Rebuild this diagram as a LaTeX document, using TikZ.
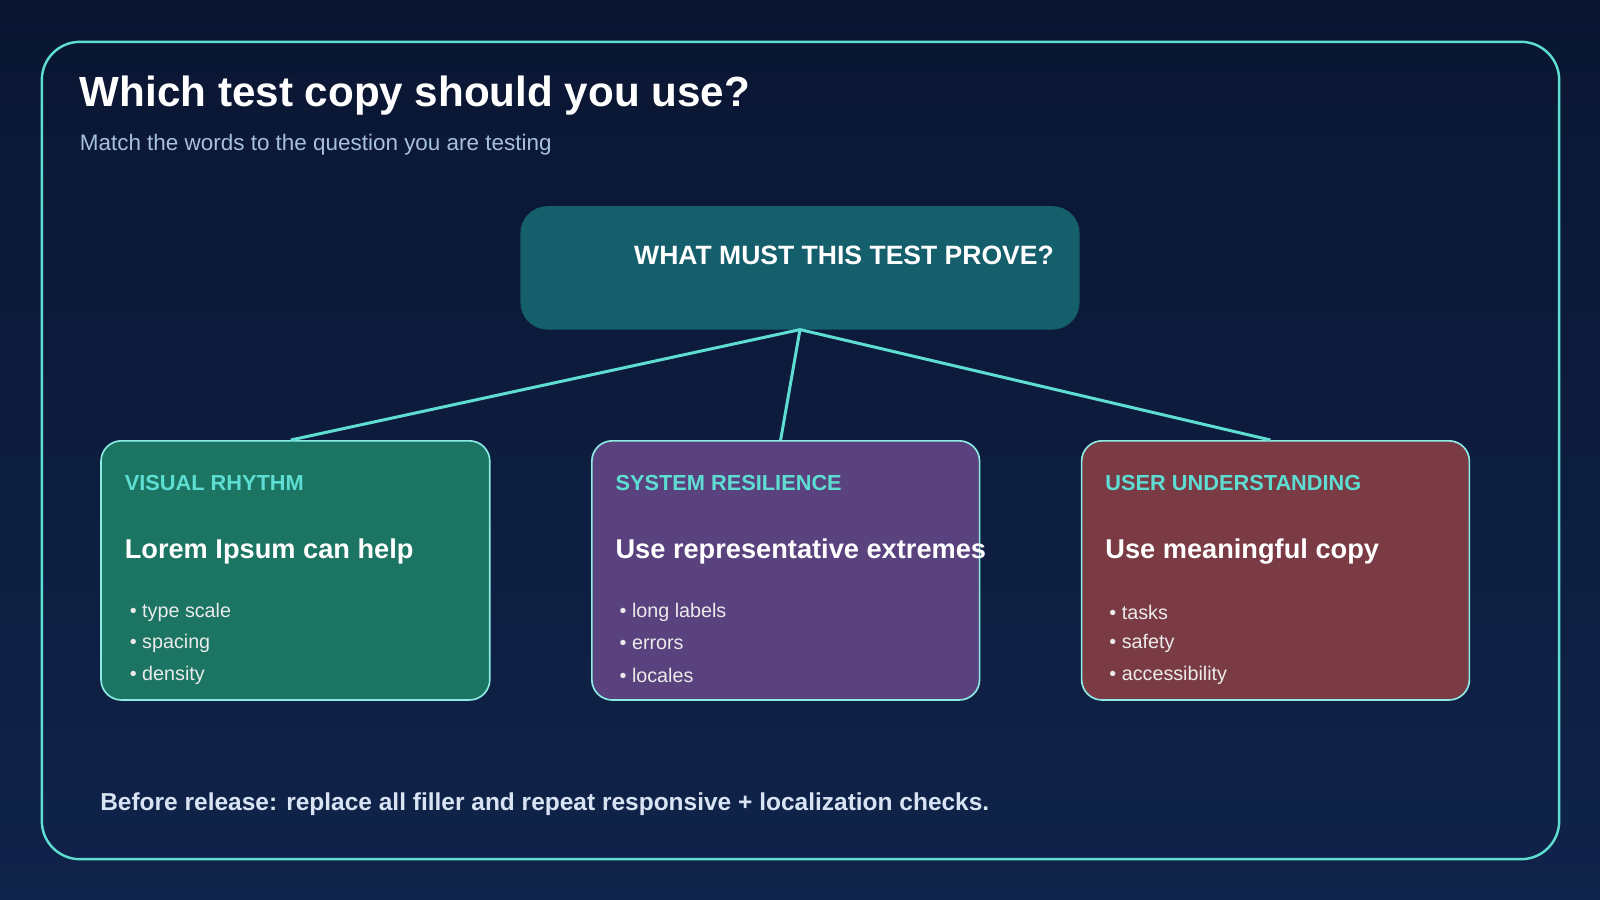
\documentclass[tikz,border=0pt]{standalone}
\usepackage{fontspec}
\setmainfont{Liberation Sans}
\definecolor{bgtop}{HTML}{0A1632}
\definecolor{bgbot}{HTML}{10234A}
\definecolor{teal}{HTML}{5EDDD2}
\definecolor{topbox}{HTML}{155E6B}
\definecolor{cgreen}{HTML}{1B7562}
\definecolor{cpurple}{HTML}{5A427E}
\definecolor{cred}{HTML}{7A3B44}
\definecolor{cborder}{HTML}{8CEBE3}
\definecolor{subt}{HTML}{A8C0E0}
\definecolor{foot}{HTML}{D8E4F4}
\tikzset{
 card/.style={draw=cborder,line width=1.2pt,rounded corners=15pt},
 conn/.style={draw=teal,line width=2.2pt},
 hdr/.style={anchor=west,inner sep=0,text=teal,font=\fontsize{16}{19}\selectfont\bfseries},
 big/.style={anchor=west,inner sep=0,text=white,font=\fontsize{20}{24}\selectfont\bfseries},
 bul/.style={anchor=west,inner sep=0,text=white!92!black,font=\fontsize{14.5}{17}\selectfont},
}
\begin{document}
\begin{tikzpicture}[x=0.75pt,y=-0.75pt]
\useasboundingbox (0,0) rectangle (1568,882);
\shade[top color=bgtop,bottom color=bgbot] (0,0) rectangle (1568,882);
\draw[teal,line width=1.8pt,rounded corners=28pt] (41,41) rectangle (1528,842);
\node[anchor=west,inner sep=0,text=white,font=\fontsize{31}{36}\selectfont\bfseries] (title) at (78,94) {Which test copy should you use?};
\node[anchor=west,inner sep=0,text=subt,font=\fontsize{16.5}{20}\selectfont] (sub) at (78,142) {Match the words to the question you are testing};
\node[fill=topbox,rounded corners=20pt,minimum width=548*0.75pt,minimum height=121*0.75pt,inner sep=0] (top) at (784,262.5) {};
\node[anchor=east,inner sep=0,text=white,font=\fontsize{19.5}{23}\selectfont\bfseries] (toptext) at (1033,250) {WHAT MUST THIS TEST PROVE?};
\coordinate (tp) at (784,323);
\node[card,fill=cgreen,minimum width=381*0.75pt,minimum height=254*0.75pt,inner sep=0] (c1) at (289.5,559) {};
\node[card,fill=cpurple,minimum width=380*0.75pt,minimum height=254*0.75pt,inner sep=0] (c2) at (770,559) {};
\node[card,fill=cred,minimum width=380*0.75pt,minimum height=254*0.75pt,inner sep=0] (c3) at (1250,559) {};
\draw[conn] (tp) -- (c1.north -| 285,0);
\draw[conn] (tp) -- (c2.north -| 765,0);
\draw[conn] (tp) -- (c3.north -| 1245,0);
\node[hdr] (h1) at (122,473) {VISUAL RHYTHM};
\node[big] (m1) at (122,540) {Lorem Ipsum can help};
\node[bul] (b11) at (127,600) {• type scale};
\node[bul] (b12) at (127,631) {• spacing};
\node[bul] (b13) at (127,662) {• density};
\node[hdr] (h2) at (603,473) {SYSTEM RESILIENCE};
\node[big] (m2) at (603,540) {Use representative extremes};
\node[bul] (b21) at (607,600) {• long labels};
\node[bul] (b22) at (607,631) {• errors};
\node[bul] (b23) at (607,662) {• locales};
\node[hdr] (h3) at (1083,473) {USER UNDERSTANDING};
\node[big] (m3) at (1083,540) {Use meaningful copy};
\node[bul] (b31) at (1087,600) {• tasks};
\node[bul] (b32) at (1087,631) {• safety};
\node[bul] (b33) at (1087,662) {• accessibility};
\node[anchor=west,inner sep=0,text=foot,font=\fontsize{18}{22}\selectfont\bfseries] (footer) at (98,788) {Before release: replace all filler and repeat responsive + localization checks.};
\end{tikzpicture}
\end{document}
